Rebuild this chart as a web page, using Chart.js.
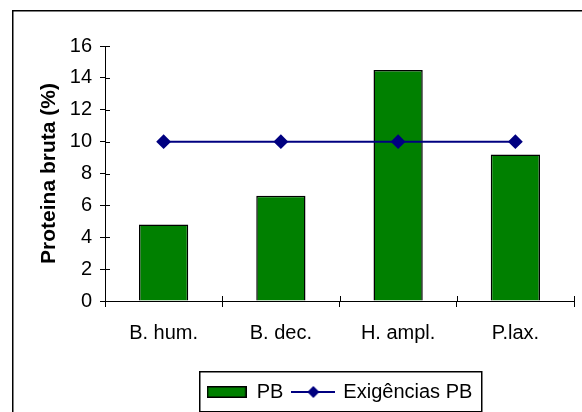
<!DOCTYPE html>
<html>
<head>
<meta charset="utf-8">
<script src="https://cdn.jsdelivr.net/npm/chart.js@4/dist/chart.umd.min.js"></script>
<style>
  html, body { margin: 0; padding: 0; background: #fff; }
</style>
</head>
<body>
<canvas id="chart" width="582" height="412"></canvas>
<script>
// data
const categories = ['B. hum.', 'B. dec.', 'H. ampl.', 'P.lax.'];
const pbValues = [4.8, 6.6, 14.5, 9.2];
const requirementValues = [10, 10, 10, 10];
const yTicks = { min: 0, max: 16, step: 2 };

const FONT = "Arial, 'Liberation Sans', sans-serif";
const GREEN = '#008000';
const NAVY = '#000080';

// legend swatches
const barSwatch = document.createElement('canvas');
barSwatch.width = 40; barSwatch.height = 12;
(function () {
    const c = barSwatch.getContext('2d');
    c.fillStyle = GREEN;
    c.fillRect(0, 0, 40, 12);
    c.strokeStyle = '#000';
    c.lineWidth = 1.5;
    c.strokeRect(0.75, 0.75, 38.5, 10.5);
})();

const lineSwatch = document.createElement('canvas');
lineSwatch.width = 44; lineSwatch.height = 14;
(function () {
    const c = lineSwatch.getContext('2d');
    c.strokeStyle = NAVY;
    c.lineWidth = 2;
    c.beginPath(); c.moveTo(0, 7); c.lineTo(44, 7); c.stroke();
    c.fillStyle = NAVY;
    c.beginPath();
    c.moveTo(22, 1); c.lineTo(28, 7); c.lineTo(22, 13); c.lineTo(16, 7);
    c.closePath(); c.fill();
})();

// outer frame, legend frame and ticks that cross the axes
const decorations = {
    id: 'decorations',
    beforeDraw(chart) {
        const ctx = chart.ctx;
        ctx.save();
        ctx.strokeStyle = '#000';
        ctx.lineWidth = 1.5;
        ctx.strokeRect(12.75, 10.75, 700, 600);
        ctx.restore();
    },
    afterDraw(chart) {
        const ctx = chart.ctx;
        const x = chart.scales.x, y = chart.scales.y;
        ctx.save();
        ctx.strokeStyle = '#000';
        ctx.lineWidth = 1;
        ctx.beginPath();
        y.ticks.forEach(t => {
            const py = Math.round(y.getPixelForValue(t.value)) + 0.5;
            ctx.moveTo(y.right, py); ctx.lineTo(y.right + 5, py);
        });
        for (let i = 1; i <= categories.length; i++) {
            const px = Math.round(x.getPixelForValue(i - 0.5)) + 0.5;
            ctx.moveTo(px, x.top); ctx.lineTo(px, x.top - 5);
        }
        ctx.stroke();

        const boxes = chart.legend.legendHitBoxes || [];
        if (boxes.length) {
            const left = Math.min(...boxes.map(b => b.left)) - 8;
            const right = Math.max(...boxes.map(b => b.left + b.width)) + 8;
            const top = Math.min(...boxes.map(b => b.top)) - 11;
            const bottom = Math.max(...boxes.map(b => b.top + b.height)) + 9;
            ctx.beginPath();
            ctx.lineWidth = 1.5;
            ctx.rect(Math.round(left) + 0.75, Math.round(top) + 0.75, Math.round(right - left), Math.round(bottom - top));
            ctx.stroke();
        }
        ctx.restore();
    }
};

new Chart(document.getElementById('chart'), {
    data: {
        labels: categories,
        datasets: [{
            type: 'bar',
            label: 'PB',
            data: pbValues,
            backgroundColor: GREEN,
            borderColor: '#000',
            borderWidth: 1.5,
            categoryPercentage: 1,
            barPercentage: 0.42,
            order: 1
        }, {
            type: 'line',
            label: 'Exigências PB',
            data: requirementValues,
            borderColor: NAVY,
            backgroundColor: NAVY,
            borderWidth: 2,
            pointStyle: 'rectRot',
            pointRadius: 6,
            pointHoverRadius: 6,
            fill: false,
            order: 0
        }]
    },
    options: {
        responsive: false,
        animation: false,
        layout: { padding: { left: 37, right: 5, top: 46, bottom: 0 } },
        scales: {
            x: {
                grid: { display: true, drawOnChartArea: false, offset: true, color: '#000', tickLength: 6 },
                border: { display: true, color: '#000', width: 1 },
                ticks: { color: '#000', padding: 14, font: { size: 20, family: FONT } },
                afterFit(scale) { scale.height = 71; }
            },
            y: {
                min: yTicks.min,
                max: yTicks.max,
                ticks: { stepSize: yTicks.step, color: '#000', padding: 8, font: { size: 20, family: FONT } },
                grid: { display: true, drawOnChartArea: false, color: '#000', tickLength: 5 },
                border: { display: true, color: '#000', width: 1 },
                title: { display: true, text: 'Proteina bruta (%)', color: '#000', padding: 0, font: { size: 21, weight: 'bold', family: FONT } },
                afterFit(scale) { scale.width = 68; }
            }
        },
        plugins: {
            legend: {
                position: 'bottom',
                fullSize: false,
                labels: {
                    usePointStyle: true,
                    pointStyleWidth: 40,
                    boxHeight: 14,
                    padding: 10,
                    color: '#000',
                    font: { size: 20, family: FONT },
                    sort: (a, b) => a.datasetIndex - b.datasetIndex,
                    generateLabels(chart) {
                        const items = Chart.defaults.plugins.legend.labels.generateLabels(chart);
                        items.forEach(it => {
                            it.pointStyle = it.datasetIndex === 0 ? barSwatch : lineSwatch;
                        });
                        return items;
                    }
                }
            },
            tooltip: { enabled: false }
        }
    },
    plugins: [decorations]
});
</script>
</body>
</html>
